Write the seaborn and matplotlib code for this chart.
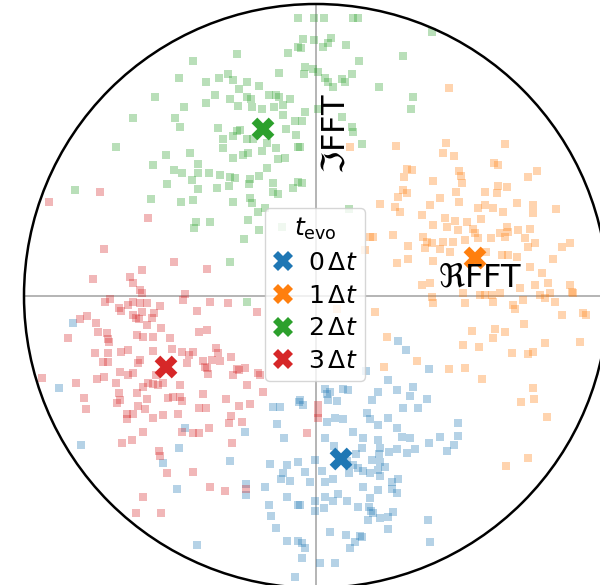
import numpy as np
import pandas as pd
import matplotlib
matplotlib.use("Agg")
import matplotlib.pyplot as plt
from matplotlib.lines import Line2D
from matplotlib.patches import Circle
import seaborn as sns

# FFT amplitude (a.u.) that maps onto the unit circle
FULL_SCALE = 292.0

evo_labels = [r"$0\,\Delta t$", r"$1\,\Delta t$", r"$2\,\Delta t$", r"$3\,\Delta t$"]

# expected FFT value for each evolution time (Re, Im)
centre_re = [25, 159, -53, -150]
centre_im = [-163, 38, 167, -71]

# single-shot FFT values (Re, Im) per evolution time
shots_0dt = [
    (82, -45), (90, -54), (113, -73), (50, -75), (72, -84), (97, -91), (27, -93), (32, -94),
    (9, -93), (14, -96), (62, -96), (81, -94), (94, -100), (111, -103), (21, -105), (12, -104),
    (11, -98), (56, -104), (-16, -104), (-13, -109), (87, -112), (102, -112), (51, -117),
    (19, -122), (27, -123), (54, -123), (72, -122), (11, -126), (142, -127), (62, -129),
    (81, -132), (37, -136), (86, -141), (94, -142), (142, -140), (124, -141), (9, -142),
    (47, -142), (62, -144), (18, -150), (113, -147), (138, -149), (46, -152), (64, -152),
    (81, -153), (73, -156), (91, -157), (99, -153), (131, -155), (40, -158), (63, -158),
    (31, -165), (56, -164), (64, -166), (-1, -164), (37, -169), (42, -172), (47, -175),
    (54, -177), (62, -174), (69, -171), (-11, -176), (6, -175), (17, -183), (33, -177),
    (-6, -186), (9, -186), (64, -180), (76, -186), (82, -183), (47, -191), (62, -194),
    (76, -193), (81, -197), (22, -198), (9, -201), (31, -205), (54, -202), (17, -205),
    (-1, -205), (-16, -209), (42, -211), (53, -211), (55, -215), (57, -217), (8, -212),
    (-1, -215), (64, -222), (52, -224), (72, -221), (77, -216), (112, -224), (72, -233),
    (14, -236), (30, -239), (44, -240), (46, -241), (39, -246), (34, -252), (114, -246),
    (-11, -252), (-14, -247), (4, -267), (19, -267), (-14, -262),
    (-243, -27), (-257, -92), (-235, -149), (-131, -132), (-137, -152), (-153, -167),
    (-139, -193), (-119, -249), (-43, -111), (-36, -111), (-39, -128), (-71, -136),
    (-32, -142), (-17, -106), (-86, -165), (-46, -168), (-29, -169), (-18, -166),
    (-33, -177), (-35, -183), (-26, -185), (-70, -188), (-51, -191), (-29, -201),
    (-18, -209), (-47, -209), (-45, -220), (-40, -232), (-29, -245), (-18, -245),
    (-21, -281), (-70, -199),
]

shots_1dt = [
    (133, 208), (34, 149), (80, 150), (130, 153), (189, 152), (127, 143), (138, 140),
    (178, 133), (182, 131), (221, 125), (212, 119), (91, 127), (96, 126), (88, 119),
    (143, 125), (145, 120), (146, 113), (117, 115), (182, 110), (169, 104), (181, 103),
    (191, 109), (87, 106), (91, 103), (82, 99), (140, 104), (124, 98), (64, 92), (79, 89),
    (84, 84), (114, 91), (143, 94), (162, 88), (169, 91), (177, 88), (187, 84), (201, 93),
    (217, 91), (217, 83), (240, 87), (106, 81), (129, 78), (139, 75), (151, 74), (165, 77),
    (117, 71), (191, 69), (192, 64), (131, 69), (142, 66), (157, 67), (159, 63), (184, 63),
    (202, 66), (214, 67), (57, 59), (77, 61), (107, 59), (111, 54), (116, 53), (127, 54),
    (137, 54), (149, 56), (162, 58), (175, 58), (189, 59), (209, 58), (212, 49), (219, 53),
    (254, 53), (246, 49), (92, 50), (109, 48), (124, 47), (134, 44), (170, 44), (186, 41),
    (192, 41), (201, 39), (237, 37), (92, 37), (81, 33), (117, 35), (49, 46), (106, 11),
    (114, 13), (214, 29), (226, 23), (232, 13), (254, 11), (256, 4), (204, 8), (219, 11),
    (234, 3), (147, 3), (184, 3), (169, 1), (116, -1), (117, -7), (149, -7), (164, 1),
    (176, 1), (177, -6), (197, -9), (199, -13), (207, -4), (224, 1), (229, -2), (239, -6),
    (257, 3), (267, -17), (270, -19), (246, -19), (59, -16), (156, -35), (179, -33),
    (177, -42), (189, -36), (208, -28), (147, -49), (163, -51), (196, -57), (212, -58),
    (217, -56), (229, -47), (264, -46), (71, -41), (101, -65), (68, -71), (149, -72),
    (133, -73), (166, -83), (217, -92), (205, -106), (218, -103), (231, -121), (212, -162),
    (190, -170), (21, -13), (54, 59),
]

shots_2dt = [
    (-18, 278), (-18, 249), (-28, 243), (-79, 242), (-123, 235), (-37, 223), (-137, 218),
    (-110, 214), (-97, 218), (-88, 222), (-83, 216), (-69, 214), (-57, 210), (-77, 207),
    (-161, 199), (-101, 201), (-86, 197), (-69, 199), (-65, 197), (-47, 201), (-40, 201),
    (-37, 199), (-26, 197), (-110, 193), (-132, 189), (-78, 190), (-64, 189), (-54, 187),
    (-42, 189), (-33, 191), (-33, 181), (-183, 178), (-141, 178), (-136, 169), (-98, 168),
    (-79, 165), (-76, 166), (-83, 160), (-30, 167), (-21, 175), (-20, 161), (-93, 157),
    (-69, 157), (-63, 157), (-49, 153), (-40, 148), (-93, 148), (-54, 145), (-200, 149),
    (-73, 141), (-68, 143), (-83, 138), (-38, 137), (-31, 138), (-126, 143), (-150, 141),
    (-18, 149), (-163, 131), (-118, 132), (-49, 128), (-142, 126), (-134, 123), (-118, 123),
    (-107, 123), (-96, 121), (-86, 119), (-81, 118), (-124, 116), (-66, 117), (-57, 120),
    (-43, 113), (-18, 114), (-149, 112), (-99, 108), (-87, 110), (-67, 112), (-23, 108),
    (-118, 107), (-43, 104), (-38, 102), (-241, 106), (-165, 97), (-135, 94), (-123, 96),
    (-83, 94), (-64, 93), (-66, 98), (-58, 84), (-51, 88), (-120, 74), (-122, 68),
    (-106, 74), (-68, 76), (-57, 66), (-72, 57), (-86, 34), (-69, -6), (-2, 278), (8, 278),
    (37, 278), (42, 278), (116, 264), (-13, 257), (-2, 256), (15, 258), (12, 253), (7, 249),
    (30, 251), (-15, 248), (87, 240), (43, 235), (-11, 229), (-12, 222), (-3, 227), (2, 224),
    (9, 218), (12, 214), (17, 209), (26, 217), (29, 214), (36, 222), (63, 209), (97, 199),
    (95, 187), (2, 187), (-11, 184), (26, 179), (36, 169), (37, 164), (-14, 175), (46, 152),
    (-16, 149), (-14, 113), (33, 87), (-34, 69),
]

shots_3dt = [
    (-267, 94), (-216, 104), (-168, 78), (-212, 47), (-142, 34), (-109, 27), (-174, 26),
    (-223, 17), (-186, 19), (-183, 13), (-176, 6), (-174, 3), (-131, 2), (-206, -3),
    (-133, -4), (-211, -6), (-197, -12), (-195, -15), (-188, -9), (-183, -6), (-176, -7),
    (-169, -7), (-156, -10), (-106, -6), (-88, -7), (-59, -16), (-119, -15), (-229, -20),
    (-236, -23), (-183, -19), (-180, -22), (-177, -23), (-174, -16), (-162, -17), (-164, -22),
    (-220, -27), (-218, -36), (-169, -29), (-155, -32), (-117, -36), (-109, -34), (-248, -42),
    (-209, -37), (-208, -43), (-207, -46), (-179, -39), (-173, -41), (-163, -41), (-146, -42),
    (-144, -53), (-195, -56), (-188, -54), (-221, -57), (-208, -57), (-163, -55), (-134, -56),
    (-123, -56), (-127, -59), (-100, -52), (-98, -57), (-85, -61), (-213, -66), (-208, -66),
    (-176, -64), (-178, -67), (-129, -67), (-113, -65), (-111, -71), (-104, -64), (-96, -65),
    (-109, -72), (-108, -78), (-79, -73), (-77, -74), (-71, -72), (-58, -77), (-56, -79),
    (-196, -76), (-188, -79), (-183, -77), (-160, -79), (-274, -82), (-240, -87), (-219, -83),
    (-212, -81), (-200, -87), (-173, -91), (-168, -87), (-163, -88), (-158, -89), (-153, -87),
    (-136, -89), (-83, -79), (-69, -89), (-53, -96), (-197, -97), (-196, -104), (-179, -97),
    (-232, -102), (-230, -113), (-199, -107), (-169, -103), (-148, -102), (-143, -101),
    (-136, -101), (-134, -105), (-113, -98), (-90, -103), (-77, -110), (-66, -108),
    (-178, -110), (-117, -112), (-110, -112), (-189, -118), (-183, -118), (-189, -123),
    (-171, -113), (-163, -122), (-153, -119), (-138, -118), (-85, -120), (-87, -127),
    (-74, -126), (-173, -136), (-194, -147), (-184, -144), (-134, -136), (-123, -137),
    (-117, -137), (-107, -132), (-84, -147), (-157, -155), (-156, -160), (-149, -177),
    (-123, -176), (-106, -191), (-91, -195), (-70, -193), (-173, -201), (-180, -217),
    (-155, -217), (2, -109), (2, -117), (2, -122), (-9, -137),
]

all_shots = [shots_0dt, shots_1dt, shots_2dt, shots_3dt]

rows = []
for label, shots in zip(evo_labels, all_shots):
    for re_val, im_val in shots:
        rows.append((label, re_val / FULL_SCALE, im_val / FULL_SCALE))
shots_df = pd.DataFrame(rows, columns=["t_evo", "re", "im"])

centres_df = pd.DataFrame({
    "t_evo": evo_labels,
    "re": np.array(centre_re) / FULL_SCALE,
    "im": np.array(centre_im) / FULL_SCALE,
})

sns.set_style("white")
palette = dict(zip(evo_labels, sns.color_palette("tab10", 4)))

fig = plt.figure(figsize=(6.0, 5.85), dpi=100)
ax = fig.add_axes([0, 0, 1, 1])

# Re / Im axes through the origin
ax.plot([-1, 1], [0, 0], color="#a8a8a8", lw=1.2, zorder=1)
ax.plot([0, 0], [-1, 1], color="#a8a8a8", lw=1.2, zorder=1)

sns.scatterplot(data=shots_df, x="re", y="im", hue="t_evo", palette=palette,
                marker="s", s=32, alpha=0.33, linewidth=0, legend=False, ax=ax, zorder=2)

ax.add_patch(Circle((0, 0), 1.0, fill=False, ec="black", lw=1.8, zorder=3))

sns.scatterplot(data=centres_df, x="re", y="im", hue="t_evo", palette=palette,
                marker="X", s=270, linewidth=0, legend=False, ax=ax, zorder=4)

ax.text(164.5 / FULL_SCALE, 9 / FULL_SCALE, r"$\Re$FFT", fontsize=23, color="black",
        ha="center", va="baseline", zorder=5)
ax.text(20.5 / FULL_SCALE, 162 / FULL_SCALE, r"$\Im$FFT", fontsize=23, color="black",
        ha="center", va="center", rotation=90, zorder=5)

handles = [Line2D([], [], ls="none", marker="X", markersize=15, markeredgewidth=0,
                  color=palette[lab]) for lab in evo_labels]
leg = ax.legend(handles, evo_labels, title=r"$t_{\rm evo}$", loc="center",
                bbox_to_anchor=(-1 / FULL_SCALE, 1.5 / FULL_SCALE), bbox_transform=ax.transData,
                fontsize=18, title_fontsize=18, handlelength=0.8, handletextpad=0.6,
                borderpad=0.3, labelspacing=0.35)
for txt in leg.get_texts():
    txt.set_color("black")
leg.get_title().set_color("black")

ax.set_xlim(-316 / FULL_SCALE, 284 / FULL_SCALE)
ax.set_ylim(-289 / FULL_SCALE, 296 / FULL_SCALE)
ax.set_aspect("equal")
ax.set_axis_off()

fig.savefig("out.png", dpi=100)
